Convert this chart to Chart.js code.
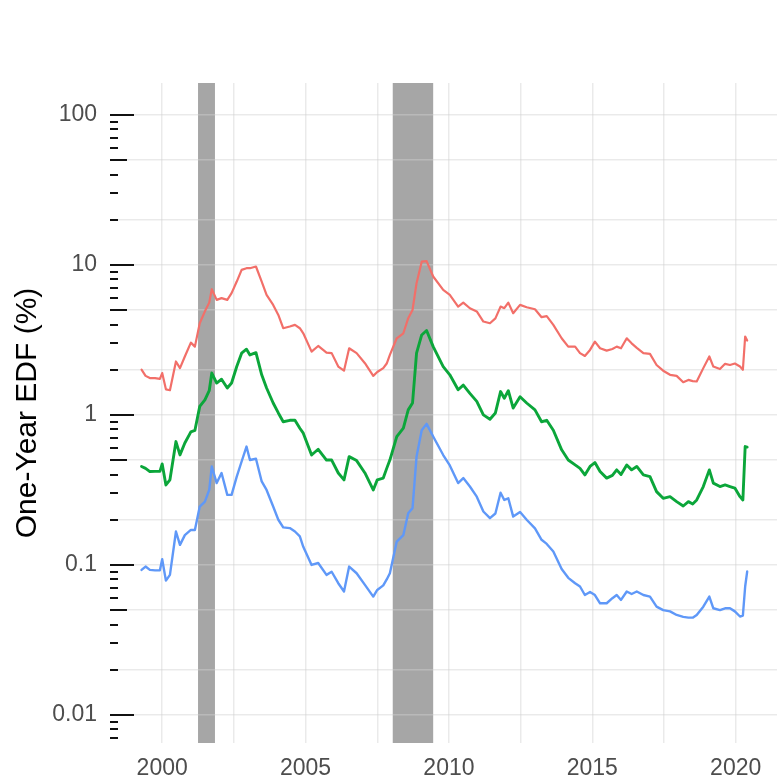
<!DOCTYPE html>
<html>
<head>
<meta charset="utf-8">
<script src="https://cdn.jsdelivr.net/npm/chart.js@4.4.1/dist/chart.umd.min.js"></script>
<style>
  html, body { margin: 0; padding: 0; background: #ffffff; }
  #wrap { width: 777px; height: 782px; }
</style>
</head>
<body>
<div id="wrap"><canvas id="edf" width="777" height="782"></canvas></div>
<script>
// Observation dates (decimal years)
const dates = [
  1999.28, 1999.42, 1999.57, 1999.75, 1999.92, 2000.00, 2000.13, 2000.27, 2000.48, 2000.62,
  2000.79, 2001.00, 2001.14, 2001.31, 2001.49, 2001.64, 2001.73, 2001.90, 2002.07, 2002.27,
  2002.42, 2002.60, 2002.77, 2002.94, 2003.06, 2003.27, 2003.47, 2003.64, 2003.87, 2004.05,
  2004.22, 2004.45, 2004.63, 2004.80, 2004.92, 2005.21, 2005.44, 2005.73, 2005.91, 2006.14,
  2006.34, 2006.52, 2006.78, 2007.07, 2007.36, 2007.50, 2007.71, 2007.83, 2007.94, 2008.18,
  2008.41, 2008.58, 2008.73, 2008.87, 2009.05, 2009.22, 2009.45, 2009.80, 2010.03, 2010.32,
  2010.50, 2010.73, 2010.97, 2011.20, 2011.43, 2011.62, 2011.80, 2011.93, 2012.07, 2012.24,
  2012.48, 2012.71, 2013.00, 2013.23, 2013.41, 2013.64, 2013.93, 2014.16, 2014.40, 2014.57,
  2014.74, 2014.92, 2015.09, 2015.27, 2015.50, 2015.70, 2015.85, 2016.00, 2016.20, 2016.37,
  2016.55, 2016.78, 2017.01, 2017.24, 2017.47, 2017.71, 2017.94, 2018.17, 2018.35, 2018.50,
  2018.64, 2018.87, 2019.08, 2019.22, 2019.45, 2019.63, 2019.80, 2019.97, 2020.15, 2020.25,
  2020.33, 2020.40
];

// One-year EDF, percent
const edfRed = [
  2.00, 1.82, 1.76, 1.76, 1.74, 1.90, 1.48, 1.46, 2.27, 2.05,
  2.45, 3.03, 2.85, 4.08, 4.90, 5.60, 6.88, 5.84, 6.00, 5.84,
  6.48, 7.74, 9.26, 9.50, 9.50, 9.75, 7.74, 6.30, 5.41, 4.64,
  3.78, 3.88, 3.98, 3.78, 3.50, 2.64, 2.88, 2.60, 2.58, 2.10,
  1.97, 2.78, 2.58, 2.21, 1.82, 1.93, 2.05, 2.20, 2.51, 3.24,
  3.50, 4.41, 5.00, 7.55, 10.5, 10.6, 8.36, 6.81, 6.31, 5.27,
  5.60, 5.14, 4.89, 4.19, 4.08, 4.40, 5.27, 5.14, 5.60, 4.76,
  5.41, 5.22, 5.06, 4.48, 4.55, 3.98, 3.24, 2.85, 2.85, 2.58,
  2.47, 2.71, 3.08, 2.78, 2.68, 2.75, 2.85, 2.78, 3.24, 3.00,
  2.80, 2.58, 2.55, 2.15, 1.97, 1.85, 1.82, 1.65, 1.71, 1.68,
  1.67, 2.05, 2.45, 2.10, 2.02, 2.19, 2.15, 2.20, 2.10, 2.00,
  3.33, 3.13
];

const edfGreen = [
  0.453, 0.440, 0.419, 0.420, 0.420, 0.471, 0.341, 0.369, 0.664, 0.541,
  0.650, 0.770, 0.787, 1.14, 1.26, 1.45, 1.90, 1.63, 1.73, 1.51,
  1.63, 2.10, 2.58, 2.74, 2.51, 2.60, 1.85, 1.51, 1.20, 1.03,
  0.900, 0.920, 0.920, 0.815, 0.755, 0.540, 0.590, 0.500, 0.500, 0.410,
  0.369, 0.527, 0.496, 0.410, 0.316, 0.369, 0.379, 0.440, 0.500, 0.717,
  0.815, 1.08, 1.20, 2.58, 3.41, 3.65, 2.85, 2.10, 1.85, 1.47,
  1.58, 1.39, 1.23, 1.00, 0.936, 1.03, 1.43, 1.29, 1.45, 1.11,
  1.32, 1.20, 1.08, 0.900, 0.920, 0.790, 0.585, 0.500, 0.464, 0.440,
  0.398, 0.453, 0.481, 0.419, 0.379, 0.395, 0.430, 0.400, 0.464, 0.430,
  0.453, 0.398, 0.388, 0.308, 0.278, 0.285, 0.264, 0.247, 0.264, 0.255,
  0.271, 0.333, 0.430, 0.351, 0.333, 0.341, 0.333, 0.325, 0.285, 0.271,
  0.615, 0.610
];

const edfBlue = [
  0.0926, 0.0975, 0.0926, 0.0920, 0.0920, 0.109, 0.0786, 0.0858, 0.167, 0.136,
  0.158, 0.171, 0.171, 0.245, 0.264, 0.316, 0.453, 0.351, 0.410, 0.293,
  0.293, 0.388, 0.489, 0.615, 0.500, 0.510, 0.360, 0.316, 0.245, 0.200,
  0.178, 0.176, 0.167, 0.155, 0.132, 0.100, 0.103, 0.0858, 0.0900, 0.0755,
  0.0665, 0.0975, 0.0880, 0.0736, 0.0615, 0.0681, 0.0730, 0.0800, 0.0880, 0.143,
  0.158, 0.221, 0.239, 0.527, 0.790, 0.871, 0.717, 0.540, 0.460, 0.351,
  0.379, 0.333, 0.285, 0.227, 0.205, 0.220, 0.303, 0.271, 0.278, 0.210,
  0.225, 0.200, 0.175, 0.147, 0.138, 0.123, 0.0940, 0.0820, 0.0755, 0.0718,
  0.0630, 0.0660, 0.0630, 0.0555, 0.0555, 0.0600, 0.0630, 0.0584, 0.0665, 0.0640,
  0.0665, 0.0630, 0.0615, 0.0527, 0.0500, 0.0490, 0.0464, 0.0450, 0.0445, 0.0445,
  0.0464, 0.0527, 0.0615, 0.0514, 0.0500, 0.0514, 0.0514, 0.0490, 0.0453, 0.0460,
  0.0718, 0.0903
];

// Recession periods (start, end) in decimal years
const recessions = [
  [2001.25, 2001.84],
  [2008.04, 2009.45]
];

// Axis ticks
const yLabelValues = [0.01, 0.1, 1, 10, 100];
const yGridValues = [0.01, 0.02, 0.05, 0.1, 0.2, 0.5, 1, 2, 5, 10, 20, 50, 100];
const xGridValues = [2000, 2002.5, 2005, 2007.5, 2010, 2012.5, 2015, 2017.5, 2020];
const xLabelValues = [2000, 2005, 2010, 2015, 2020];

const toPoints = vals => vals.map((v, i) => ({ x: dates[i], y: v }));

const GRID = 'rgba(208,208,208,0.45)';
const TEXT = '#4d4d4d';
const FONT = "'Liberation Sans', Arial, sans-serif";

// Shaded recession bands, painted beneath the grid
const recessionBands = {
  id: 'recessionBands',
  beforeDraw(chart) {
    const { ctx, chartArea, scales } = chart;
    ctx.save();
    ctx.fillStyle = '#a6a6a6';
    recessions.forEach(([s, e]) => {
      const x0 = scales.x.getPixelForValue(s);
      const x1 = scales.x.getPixelForValue(e);
      ctx.fillRect(x0, chartArea.top, x1 - x0, chartArea.bottom - chartArea.top);
    });
    ctx.restore();
  }
};

// Log-scale tick marks along the inside of the left edge
const logTicks = {
  id: 'logTicks',
  afterDraw(chart) {
    const { ctx, chartArea, scales } = chart;
    const y = scales.y;
    ctx.save();
    ctx.strokeStyle = '#111111';
    ctx.lineWidth = 2;
    for (let p = -3; p <= 2; p++) {
      for (let m = 1; m <= 9; m++) {
        const v = m * Math.pow(10, p);
        const py = Math.round(y.getPixelForValue(v));
        if (py < chartArea.top || py > chartArea.bottom) continue;
        const len = m === 1 ? 24 : (m === 5 ? 17 : 8);
        ctx.beginPath();
        ctx.moveTo(chartArea.left, py);
        ctx.lineTo(chartArea.left + len, py);
        ctx.stroke();
      }
    }
    ctx.restore();
  }
};

const lineStyle = (color, width) => ({
  borderColor: color,
  backgroundColor: color,
  borderWidth: width,
  pointRadius: 0,
  tension: 0,
  fill: false,
  borderJoinStyle: 'round',
  borderCapStyle: 'round'
});

new Chart(document.getElementById('edf'), {
  type: 'line',
  data: {
    datasets: [
      Object.assign({ label: 'Red', data: toPoints(edfRed) }, lineStyle('#F26F69', 2.2)),
      Object.assign({ label: 'Green', data: toPoints(edfGreen) }, lineStyle('#0BA63A', 2.9)),
      Object.assign({ label: 'Blue', data: toPoints(edfBlue) }, lineStyle('#5F98F8', 2.4))
    ]
  },
  options: {
    responsive: false,
    animation: false,
    devicePixelRatio: 1,
    layout: { padding: { top: 83, right: 0, bottom: 0, left: 0 } },
    plugins: { legend: { display: false }, tooltip: { enabled: false } },
    scales: {
      x: {
        type: 'linear',
        min: 1998.18,
        max: 2021.44,
        afterBuildTicks: s => { s.ticks = xGridValues.map(v => ({ value: v })); },
        afterFit: s => { s.height = 39; },
        grid: { color: GRID, lineWidth: 1.5, drawTicks: false },
        border: { display: false },
        ticks: {
          autoSkip: false,
          maxRotation: 0,
          padding: 12,
          color: TEXT,
          font: { family: FONT, size: 23 },
          callback: v => (xLabelValues.includes(v) ? String(v) : '')
        }
      },
      y: {
        type: 'logarithmic',
        min: 0.0065,
        max: 163,
        afterBuildTicks: s => { s.ticks = yGridValues.map(v => ({ value: v })); },
        afterFit: s => { s.width = 110; },
        grid: { color: GRID, lineWidth: 1.5, drawTicks: false },
        border: { display: false },
        ticks: {
          autoSkip: false,
          padding: 13,
          color: TEXT,
          font: { family: FONT, size: 23 },
          callback: v => (yLabelValues.includes(v) ? String(v) : '')
        },
        title: {
          display: true,
          text: 'One-Year EDF (%)',
          color: '#000000',
          font: { family: FONT, size: 30, lineHeight: 1.2 },
          padding: { top: 10, bottom: 0 }
        }
      }
    }
  },
  plugins: [recessionBands, logTicks]
});
</script>
</body>
</html>
